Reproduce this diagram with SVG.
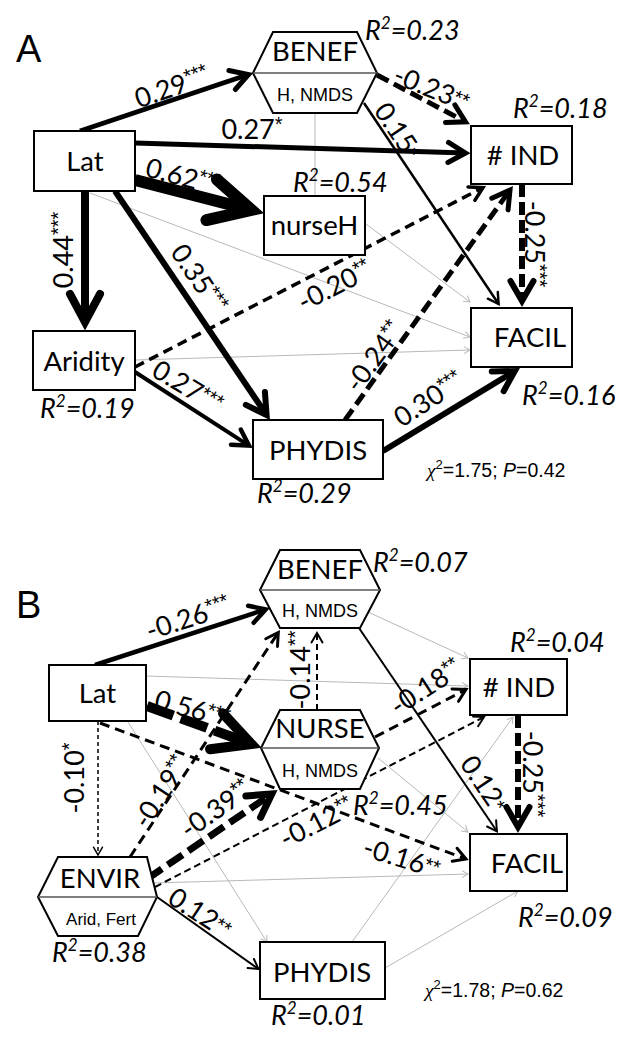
<svg xmlns="http://www.w3.org/2000/svg" width="635" height="1048" viewBox="0 0 635 1048">
<style>
.bx{fill:#fff;stroke:#000;stroke-width:2}
.ml{stroke:#555;stroke-width:1.5}
.nt{font-family:Lato,"Liberation Sans",sans-serif;font-size:27.5px;text-anchor:middle}
.st{font-family:"Liberation Sans",Arial,sans-serif;font-size:18px;text-anchor:middle}
.r2{font-family:Lato,"Liberation Sans",sans-serif;font-style:italic;font-size:27px}
.lab{font-family:Lato,"Liberation Sans",sans-serif;font-size:27px;text-anchor:middle}
.sp{font-size:17px}
.ss{font-family:"Liberation Sans",Arial,sans-serif;font-size:20px;fill:#000}
.chi{font-family:"Liberation Sans",Arial,sans-serif;font-size:19.5px}
.big{font-family:"Liberation Sans",Arial,sans-serif;font-size:38px}
.e{fill:none;stroke:#000}
.g{fill:none;stroke:#b8b8b8;stroke-width:1;marker-end:url(#mg)}
.mk{fill:none;stroke:#000;stroke-linecap:round;stroke-linejoin:miter;stroke-dasharray:none}
</style>
<defs>
<marker id="mg" markerUnits="userSpaceOnUse" orient="auto" overflow="visible" markerWidth="1" markerHeight="1"><path d="M-6,-3.5 L0,0 L-6,3.5" fill="none" stroke="#b8b8b8" stroke-width="1"/></marker>
<marker id="k15" markerUnits="userSpaceOnUse" orient="auto" overflow="visible" markerWidth="1" markerHeight="1"><path class="mk" d="M-7.8,-4.5 L0,0 L-7.8,4.5" stroke-width="1.5"/></marker>
<marker id="k2" markerUnits="userSpaceOnUse" orient="auto" overflow="visible" markerWidth="1" markerHeight="1"><path class="mk" d="M-9.5,-5.5 L0,0 L-9.5,5.5" stroke-width="2"/></marker>
<marker id="k25" markerUnits="userSpaceOnUse" orient="auto" overflow="visible" markerWidth="1" markerHeight="1"><path class="mk" d="M-10.4,-6 L0,0 L-10.4,6" stroke-width="2.5"/></marker>
<marker id="k3" markerUnits="userSpaceOnUse" orient="auto" overflow="visible" markerWidth="1" markerHeight="1"><path class="mk" d="M-12.1,-7 L0,0 L-12.1,7" stroke-width="3"/></marker>
<marker id="k35" markerUnits="userSpaceOnUse" orient="auto" overflow="visible" markerWidth="1" markerHeight="1"><path class="mk" d="M-13,-7.5 L0,0 L-13,7.5" stroke-width="3.5"/></marker>
<marker id="k45" markerUnits="userSpaceOnUse" orient="auto" overflow="visible" markerWidth="1" markerHeight="1"><path class="mk" d="M-15.6,-9 L0,0 L-15.6,9" stroke-width="4.5"/></marker>
<marker id="k5" markerUnits="userSpaceOnUse" orient="auto" overflow="visible" markerWidth="1" markerHeight="1"><path class="mk" d="M-17.3,-10 L0,0 L-17.3,10" stroke-width="5"/></marker>
<marker id="k6" markerUnits="userSpaceOnUse" orient="auto" overflow="visible" markerWidth="1" markerHeight="1"><path class="mk" d="M-20,-11.5 L0,0 L-20,11.5" stroke-width="6"/></marker>
<marker id="k7" markerUnits="userSpaceOnUse" orient="auto" overflow="visible" markerWidth="1" markerHeight="1"><path class="mk" d="M-22.5,-13 L0,0 L-22.5,13" stroke-width="7"/></marker>
<marker id="k8" markerUnits="userSpaceOnUse" orient="auto" overflow="visible" markerWidth="1" markerHeight="1"><path class="mk" d="M-28,-15 L0,0 L-28,15" stroke-width="8"/></marker>
<marker id="k10" markerUnits="userSpaceOnUse" orient="auto" overflow="visible" markerWidth="1" markerHeight="1"><path class="mk" d="M-37,-19 L0,0 L-37,19" stroke-width="10"/></marker>
<marker id="k12" markerUnits="userSpaceOnUse" orient="auto" overflow="visible" markerWidth="1" markerHeight="1"><path class="mk" d="M-41,-21 L0,0 L-41,21" stroke-width="12"/></marker>
</defs>

<g id="connectors">
<!-- Panel A gray -->
<line class="g" x1="90" y1="193" x2="470" y2="337"/>
<line class="g" x1="366" y1="224" x2="470" y2="302"/>
<line class="g" x1="135" y1="360" x2="470" y2="350"/>
<line class="g" x1="315" y1="113" x2="315" y2="196" style="marker-end:none"/>
<!-- Panel A black -->
<line class="e" x1="80" y1="131" x2="248.5" y2="74.5" stroke-width="5" marker-end="url(#k5)"/>
<line class="e" x1="135" y1="143" x2="465.5" y2="153" stroke-width="5" marker-end="url(#k5)"/>
<line class="e" x1="135" y1="180" x2="251.4" y2="210" stroke-width="12" marker-end="url(#k12)"/>
<line class="e" x1="85" y1="191" x2="85" y2="322" stroke-width="8" marker-end="url(#k8)"/>
<line class="e" x1="115" y1="191" x2="266.6" y2="415" stroke-width="6" marker-end="url(#k6)"/>
<line class="e" x1="377" y1="75" x2="465.5" y2="121.8" stroke-width="5" stroke-dasharray="13 6" marker-end="url(#k5)"/>
<line class="e" x1="364" y1="103" x2="498.6" y2="304" stroke-width="2.5" marker-end="url(#k25)"/>
<line class="e" x1="135" y1="367" x2="483" y2="187.6" stroke-width="3.5" stroke-dasharray="10 6" marker-end="url(#k35)"/>
<line class="e" x1="345" y1="420" x2="510" y2="190" stroke-width="5" stroke-dasharray="13 6" marker-end="url(#k5)"/>
<line class="e" x1="522" y1="184" x2="522" y2="301" stroke-width="6" stroke-dasharray="13 5" marker-end="url(#k6)"/>
<line class="e" x1="135" y1="372" x2="249" y2="445.6" stroke-width="4" marker-end="url(#k45)"/>
<line class="e" x1="383" y1="451" x2="514.8" y2="371" stroke-width="6" marker-end="url(#k6)"/>
<!-- Panel B gray -->
<line class="g" x1="146" y1="676" x2="468" y2="686"/>
<line class="g" x1="128" y1="722" x2="267" y2="942"/>
<line class="g" x1="153" y1="883" x2="468" y2="874"/>
<line class="g" x1="378" y1="758" x2="468" y2="832"/>
<line class="g" x1="368" y1="612" x2="468" y2="658"/>
<line class="g" x1="352" y1="942" x2="513" y2="717"/>
<line class="g" x1="385" y1="968" x2="518" y2="891"/>
<!-- Panel B black -->
<line class="e" x1="95" y1="665" x2="265.7" y2="609.4" stroke-width="4.5" marker-end="url(#k45)"/>
<line class="e" x1="147" y1="706" x2="251.3" y2="744" stroke-width="10" stroke-dasharray="28 8" marker-end="url(#k10)"/>
<line class="e" x1="98" y1="721" x2="98" y2="855" stroke-width="1.5" stroke-dasharray="4 3" marker-end="url(#k15)"/>
<line class="e" x1="100" y1="723" x2="466" y2="859" stroke-width="3" stroke-dasharray="10 6" marker-end="url(#k3)"/>
<line class="e" x1="130" y1="857" x2="278.3" y2="632.5" stroke-width="3" stroke-dasharray="10 6" marker-end="url(#k3)"/>
<line class="e" x1="317" y1="710" x2="317" y2="633" stroke-width="2" stroke-dasharray="6 4" marker-end="url(#k2)"/>
<line class="e" x1="147" y1="879" x2="271.8" y2="794" stroke-width="7" stroke-dasharray="18 7" marker-end="url(#k7)"/>
<line class="e" x1="155" y1="887" x2="484" y2="717" stroke-width="2" stroke-dasharray="7 4" marker-end="url(#k2)"/>
<line class="e" x1="157" y1="897" x2="258.5" y2="969" stroke-width="2" marker-end="url(#k2)"/>
<line class="e" x1="375" y1="737" x2="466" y2="689.5" stroke-width="3" stroke-dasharray="10 6" marker-end="url(#k3)"/>
<line class="e" x1="359" y1="628" x2="496.9" y2="831.3" stroke-width="2" marker-end="url(#k2)"/>
<line class="e" x1="518" y1="715" x2="518" y2="827" stroke-width="6" stroke-dasharray="13 5" marker-end="url(#k6)"/>
</g>

<!-- Panel A nodes -->
<text class="big" x="16" y="62">A</text>
<g id="A-BENEF">
<polygon class="bx" points="273,32 357,32 377,73 357,113 273,113 253,73"/>
<line class="ml" x1="253" y1="73" x2="377" y2="73"/>
<text class="nt" x="315" y="61">BENEF</text>
<text class="st" x="315" y="101">H, NMDS</text>
<text class="r2" x="365" y="40">R<tspan class="sp" dy="-11">2</tspan><tspan dy="11">=0.23</tspan></text>
</g>
<g id="A-Lat">
<rect class="bx" x="34" y="131" width="101" height="60"/>
<text class="nt" x="85" y="171">Lat</text>
</g>
<g id="A-nurseH">
<rect class="bx" x="264" y="196" width="101" height="59"/>
<text class="nt" x="314.5" y="235">nurseH</text>
<text class="r2" x="293" y="192">R<tspan class="sp" dy="-11">2</tspan><tspan dy="11">=0.54</tspan></text>
</g>
<g id="A-IND">
<rect class="bx" x="471" y="126" width="101" height="58"/>
<text class="nt" x="523" y="165"># IND</text>
<text class="r2" x="513" y="118">R<tspan class="sp" dy="-11">2</tspan><tspan dy="11">=0.18</tspan></text>
</g>
<g id="A-FACIL">
<rect class="bx" x="471" y="308" width="101" height="59"/>
<text class="nt" x="530" y="347">FACIL</text>
<text class="r2" x="522" y="405">R<tspan class="sp" dy="-11">2</tspan><tspan dy="11">=0.16</tspan></text>
</g>
<g id="A-Aridity">
<rect class="bx" x="33" y="331" width="102" height="59"/>
<text class="nt" x="84" y="371">Aridity</text>
<text class="r2" x="40" y="418">R<tspan class="sp" dy="-11">2</tspan><tspan dy="11">=0.19</tspan></text>
</g>
<g id="A-PHYDIS">
<rect class="bx" x="253" y="420" width="130" height="59"/>
<text class="nt" x="318" y="460">PHYDIS</text>
<text class="r2" x="257" y="503">R<tspan class="sp" dy="-11">2</tspan><tspan dy="11">=0.29</tspan></text>
</g>
<text class="chi" x="427" y="477"><tspan font-family="Liberation Serif" font-style="italic">χ</tspan><tspan font-size="13" dy="-8">2</tspan><tspan dy="8">=1.75; </tspan><tspan font-style="italic">P</tspan>=0.42</text>

<!-- Panel B nodes -->
<text class="big" x="16" y="618">B</text>
<g id="B-BENEF">
<polygon class="bx" points="280,550 360,550 380,590 360,628 280,628 260,590"/>
<line class="ml" x1="260" y1="590" x2="380" y2="590"/>
<text class="nt" x="320" y="579">BENEF</text>
<text class="st" x="320" y="617">H, NMDS</text>
<text class="r2" x="373" y="572">R<tspan class="sp" dy="-11">2</tspan><tspan dy="11">=0.07</tspan></text>
</g>
<g id="B-Lat">
<rect class="bx" x="49" y="665" width="97" height="56"/>
<text class="nt" x="97.5" y="703">Lat</text>
</g>
<g id="B-NURSE">
<polygon class="bx" points="280,710 360,710 379,748 360,789 280,789 261,748"/>
<line class="ml" x1="261" y1="748" x2="379" y2="748"/>
<text class="nt" x="320" y="738">NURSE</text>
<text class="st" x="320" y="777">H, NMDS</text>
<text class="r2" x="353" y="815">R<tspan class="sp" dy="-11">2</tspan><tspan dy="11">=0.45</tspan></text>
</g>
<g id="B-IND">
<rect class="bx" x="470" y="659" width="97" height="56"/>
<text class="nt" x="519" y="697"># IND</text>
<text class="r2" x="510" y="652">R<tspan class="sp" dy="-11">2</tspan><tspan dy="11">=0.04</tspan></text>
</g>
<g id="B-FACIL">
<rect class="bx" x="470" y="834" width="97" height="57"/>
<text class="nt" x="527" y="873">FACIL</text>
<text class="r2" x="518" y="927">R<tspan class="sp" dy="-11">2</tspan><tspan dy="11">=0.09</tspan></text>
</g>
<g id="B-ENVIR">
<polygon class="bx" points="58,857 147,857 157,897 138,936 58,936 38,897"/>
<line class="ml" x1="38" y1="897" x2="157" y2="897"/>
<text class="nt" x="100" y="888">ENVIR</text>
<text class="st" x="101" y="925" style="font-size:17px">Arid, Fert</text>
<text class="r2" x="52" y="962">R<tspan class="sp" dy="-11">2</tspan><tspan dy="11">=0.38</tspan></text>
</g>
<g id="B-PHYDIS">
<rect class="bx" x="260" y="942" width="125" height="57"/>
<text class="nt" x="322" y="982">PHYDIS</text>
<text class="r2" x="271" y="1025">R<tspan class="sp" dy="-11">2</tspan><tspan dy="11">=0.01</tspan></text>
</g>
<text class="chi" x="425" y="997"><tspan font-family="Liberation Serif" font-style="italic">χ</tspan><tspan font-size="13" dy="-8">2</tspan><tspan dy="8">=1.78; </tspan><tspan font-style="italic">P</tspan>=0.62</text>

<g id="edge-labels">
<text class="lab" transform="translate(175,96) rotate(-19)">0.29<tspan class="ss" dy="-8">***</tspan></text>
<text class="lab" x="252" y="139">0.27<tspan class="ss" dy="-8">*</tspan></text>
<text class="lab" transform="translate(181,186) rotate(15)">0.62<tspan class="ss" dy="-8">***</tspan></text>
<text class="lab" transform="translate(73,250) rotate(-90)">0.44<tspan class="ss" dy="-8">***</tspan></text>
<text class="lab" transform="translate(191,284) rotate(56)">0.35<tspan class="ss" dy="-8">***</tspan></text>
<text class="lab" transform="translate(339,294) rotate(-27)">-0.20<tspan class="ss" dy="-8">**</tspan></text>
<text class="lab" transform="translate(428,97) rotate(22)">-0.23<tspan class="ss" dy="-4">**</tspan></text>
<text class="lab" transform="translate(390,136) rotate(56)">0.15<tspan class="ss" dy="-2">*</tspan></text>
<text class="lab" transform="translate(382,362) rotate(-54)">-0.24<tspan class="ss" dy="-8">**</tspan></text>
<text class="lab" transform="translate(525,244) rotate(90)">-0.25<tspan class="ss" dy="-8">***</tspan></text>
<text class="lab" transform="translate(183,395) rotate(31)">0.27<tspan class="ss" dy="-6">***</tspan></text>
<text class="lab" transform="translate(434,407) rotate(-33)">0.30<tspan class="ss" dy="-8">***</tspan></text>

<text class="lab" transform="translate(191,627) rotate(-18)">-0.26<tspan class="ss" dy="-8">***</tspan></text>
<text class="lab" transform="translate(190,718) rotate(15)">0.56<tspan class="ss" dy="-6">***</tspan></text>
<text class="lab" transform="translate(84,778) rotate(-90)">-0.10<tspan class="ss" dy="-8">*</tspan></text>
<text class="lab" transform="translate(169,797) rotate(-57)">-0.19<tspan class="ss" dy="-8">**</tspan></text>
<text class="lab" transform="translate(310,670) rotate(-90)">-0.14<tspan class="ss" dy="-8">**</tspan></text>
<text class="lab" transform="translate(221,817) rotate(-35)">-0.39<tspan class="ss" dy="-8">**</tspan></text>
<text class="lab" transform="translate(321,831) rotate(-27)">-0.12<tspan class="ss" dy="-8">**</tspan></text>
<text class="lab" transform="translate(431,695) rotate(-33)">-0.18<tspan class="ss" dy="-8">**</tspan></text>
<text class="lab" transform="translate(476,789) rotate(56)">0.12<tspan class="ss" dy="-2">*</tspan></text>
<text class="lab" transform="translate(523,774) rotate(90)">-0.25<tspan class="ss" dy="-8">***</tspan></text>
<text class="lab" transform="translate(399,867) rotate(17)">-0.16<tspan class="ss" dy="-4">**</tspan></text>
<text class="lab" transform="translate(195,921) rotate(33)">0.12<tspan class="ss" dy="-4">**</tspan></text>
</g>
</svg>
